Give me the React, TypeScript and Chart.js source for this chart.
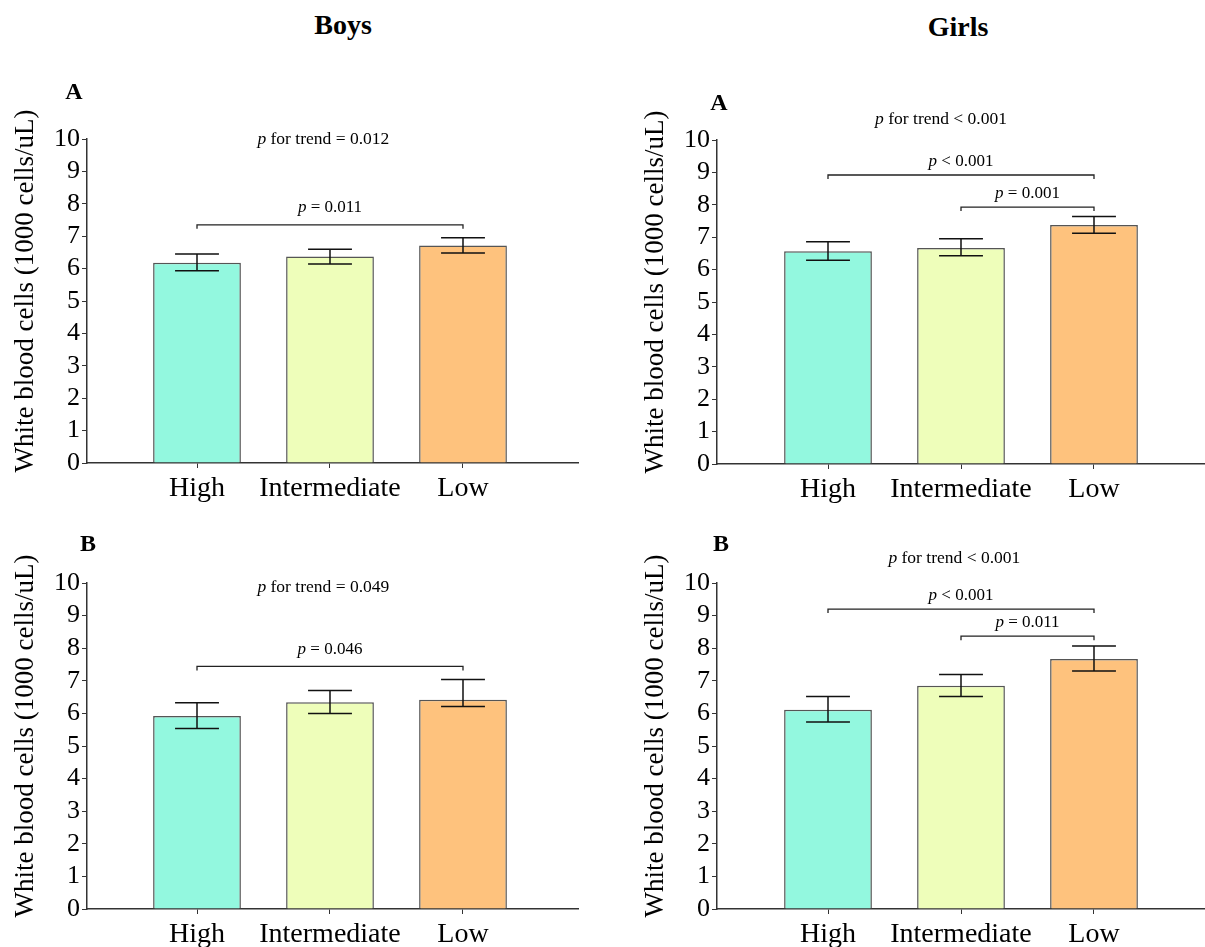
import React, { useEffect, useRef } from 'react';
import { Chart, registerables } from 'chart.js';

Chart.register(...registerables);

const FONT = '"Liberation Serif", "Times New Roman", Times, serif';

// ---------- data ----------
const categories = ['High', 'Intermediate', 'Low'];
const barColors = ['#93F8DF', '#EEFEBA', '#FEC27D'];
const yTickValues = [0, 1, 2, 3, 4, 5, 6, 7, 8, 9, 10];
const yTitle = 'White blood cells (1000 cells/uL)';

// Boys – A
const boysAMeans = [6.18, 6.37, 6.71];
const boysALower = [5.93, 6.14, 6.48];
const boysAUpper = [6.45, 6.6, 6.95];
const boysABrackets = [{ from: 0, to: 2, level: 7.35, label: ' = 0.011' }];
const boysATrend = { level: 9.84, label: ' for trend = 0.012' };

// Girls – A
const girlsAMeans = [6.57, 6.67, 7.38];
const girlsALower = [6.29, 6.43, 7.12];
const girlsAUpper = [6.86, 6.95, 7.64];
const girlsABrackets = [
  { from: 0, to: 2, level: 8.92, label: ' < 0.001' },
  { from: 1, to: 2, level: 7.93, label: ' = 0.001' },
];
const girlsATrend = { level: 10.49, label: ' for trend < 0.001' };

// Boys – B
const boysBMeans = [5.92, 6.34, 6.42];
const boysBLower = [5.54, 6.0, 6.21];
const boysBUpper = [6.33, 6.7, 7.04];
const boysBBrackets = [{ from: 0, to: 2, level: 7.44, label: ' = 0.046' }];
const boysBTrend = { level: 9.73, label: ' for trend = 0.049' };

// Girls – B
const girlsBMeans = [6.11, 6.85, 7.67];
const girlsBLower = [5.74, 6.52, 7.3];
const girlsBUpper = [6.52, 7.19, 8.07];
const girlsBBrackets = [
  { from: 0, to: 2, level: 9.2, label: ' < 0.001' },
  { from: 1, to: 2, level: 8.37, label: ' = 0.011' },
];
const girlsBTrend = { level: 10.62, label: ' for trend < 0.001' };

// ---------- layout ----------
const panels = [
  {
    key: 'boysA', left: 0, top: 60, width: 600, height: 450, padTop: 79, padRight: 22, xHeight: 47,
    xMin: 0.1729, xMax: 3.8647, labelGap: 13, trendX: 1.95,
    means: boysAMeans, lower: boysALower, upper: boysAUpper, brackets: boysABrackets, trend: boysATrend,
  },
  {
    key: 'girlsA', left: 630, top: 60, width: 575, height: 450, padTop: 80, padRight: 0, xHeight: 46,
    xMin: 0.1654, xMax: 3.8346, labelGap: 9, trendX: 1.85,
    means: girlsAMeans, lower: girlsALower, upper: girlsAUpper, brackets: girlsABrackets, trend: girlsATrend,
  },
  {
    key: 'boysB', left: 0, top: 505, width: 600, height: 442, padTop: 78, padRight: 22, xHeight: 38,
    xMin: 0.1729, xMax: 3.8647, labelGap: 12, trendX: 1.95,
    means: boysBMeans, lower: boysBLower, upper: boysBUpper, brackets: boysBBrackets, trend: boysBTrend,
  },
  {
    key: 'girlsB', left: 630, top: 505, width: 575, height: 442, padTop: 78, padRight: 0, xHeight: 38,
    xMin: 0.1654, xMax: 3.8346, labelGap: 9, trendX: 1.95,
    means: girlsBMeans, lower: girlsBLower, upper: girlsBUpper, brackets: girlsBBrackets, trend: girlsBTrend,
  },
];

const AXIS = '#333';

function drawP(ctx: CanvasRenderingContext2D, cx: number, baseY: number, rest: string, size: number) {
  ctx.font = `italic ${size}px ${FONT}`;
  const w1 = ctx.measureText('p').width;
  ctx.font = `${size}px ${FONT}`;
  const w2 = ctx.measureText(rest).width;
  const start = cx - (w1 + w2) / 2;
  ctx.textAlign = 'left';
  ctx.textBaseline = 'alphabetic';
  ctx.fillStyle = '#000';
  ctx.font = `italic ${size}px ${FONT}`;
  ctx.fillText('p', start, baseY);
  ctx.font = `${size}px ${FONT}`;
  ctx.fillText(rest, start + w1, baseY);
}

function Panel({ p }: { p: any }) {
  const ref = useRef<HTMLCanvasElement | null>(null);
  useEffect(() => {
    if (!ref.current) return;
    const annot = {
      id: 'annot',
      afterDatasetsDraw(chart: any) {
        const { ctx, chartArea } = chart;
        const x = chart.scales.x;
        const y = chart.scales.y;
        const meta = chart.getDatasetMeta(0);
        ctx.save();
        // error bars
        ctx.strokeStyle = '#111';
        ctx.lineWidth = 1.5;
        p.means.forEach((_: number, i: number) => {
          const bar = meta.data[i];
          const cx = bar.x;
          const hw = bar.width / 4;
          const yt = y.getPixelForValue(p.upper[i]);
          const yb = y.getPixelForValue(p.lower[i]);
          ctx.beginPath();
          ctx.moveTo(cx, yb);
          ctx.lineTo(cx, yt);
          ctx.moveTo(cx - hw, yt);
          ctx.lineTo(cx + hw, yt);
          ctx.moveTo(cx - hw, yb);
          ctx.lineTo(cx + hw, yb);
          ctx.stroke();
        });
        // brackets
        ctx.strokeStyle = '#222';
        ctx.lineWidth = 1.3;
        p.brackets.forEach((b: any) => {
          const x1 = x.getPixelForValue(b.from + 1);
          const x2 = x.getPixelForValue(b.to + 1);
          const yy = y.getPixelForValue(b.level);
          ctx.beginPath();
          ctx.moveTo(x1, yy + 4);
          ctx.lineTo(x1, yy);
          ctx.lineTo(x2, yy);
          ctx.lineTo(x2, yy + 4);
          ctx.stroke();
          drawP(ctx, (x1 + x2) / 2, yy - p.labelGap, b.label, 17);
        });
        // trend
        drawP(ctx, x.getPixelForValue(p.trendX), y.getPixelForValue(p.trend.level), p.trend.label, 17.5);
        // y-axis title
        ctx.save();
        ctx.translate(26, (chartArea.top + chartArea.bottom) / 2 - 10);
        ctx.rotate(-Math.PI / 2);
        ctx.font = `27px ${FONT}`;
        ctx.fillStyle = '#000';
        ctx.textAlign = 'center';
        ctx.textBaseline = 'middle';
        ctx.fillText(yTitle, 0, 0);
        ctx.restore();
        ctx.restore();
      },
    };
    const chart = new Chart(ref.current, {
      type: 'bar',
      data: {
        datasets: [
          {
            data: p.means.map((v: number, i: number) => ({ x: i + 1, y: v })),
            backgroundColor: barColors,
            borderColor: '#555',
            borderWidth: 1.5,
            barPercentage: 0.66,
            categoryPercentage: 1,
          },
        ],
      },
      options: {
        animation: false,
        responsive: false,
        devicePixelRatio: 1,
        layout: { padding: { top: p.padTop, right: p.padRight, left: 0, bottom: 0 } },
        plugins: { legend: { display: false }, tooltip: { enabled: false } },
        scales: {
          x: {
            type: 'linear',
            min: p.xMin,
            max: p.xMax,
            offset: false,
            grid: { drawOnChartArea: false, drawTicks: true, tickLength: 5, color: AXIS, offset: false },
            border: { display: true, color: AXIS, width: 1.5 },
            ticks: {
              color: '#000',
              font: { family: FONT, size: 28 },
              padding: 4,
              maxRotation: 0,
              autoSkip: false,
              callback: (v: any) => categories[Math.round(v) - 1] ?? '',
            },
            afterBuildTicks: (s: any) => {
              s.ticks = categories.map((_, i) => ({ value: i + 1 }));
            },
            afterFit: (s: any) => {
              s.height = p.xHeight;
            },
          },
          y: {
            min: 0,
            max: 10,
            grid: { drawOnChartArea: false, drawTicks: true, tickLength: 5, color: AXIS },
            border: { display: true, color: AXIS, width: 1.5 },
            ticks: { color: '#000', font: { family: FONT, size: 26 }, padding: 2, autoSkip: false },
            afterBuildTicks: (s: any) => {
              s.ticks = yTickValues.map((v) => ({ value: v }));
            },
            title: { display: false, text: yTitle },
            afterFit: (s: any) => {
              s.width = 87;
            },
          },
        },
      } as any,
      plugins: [annot],
    });
    return () => chart.destroy();
  }, [p]);
  return (
    <canvas
      ref={ref}
      width={p.width}
      height={p.height}
      style={{ position: 'absolute', left: p.left, top: p.top, width: p.width, height: p.height }}
    />
  );
}

const headings = [
  { text: 'Boys', x: 343, y: 25, size: 28 },
  { text: 'Girls', x: 958, y: 27, size: 28 },
  { text: 'A', x: 74, y: 91, size: 24 },
  { text: 'A', x: 719, y: 102, size: 24 },
  { text: 'B', x: 88, y: 543, size: 24 },
  { text: 'B', x: 721, y: 543, size: 24 },
];

export default function App() {
  return (
    <div style={{ position: 'absolute', left: 0, top: 0, width: 1205, height: 947, background: '#fff', overflow: 'hidden' }}>
      {panels.map((p) => (
        <Panel key={p.key} p={p} />
      ))}
      {headings.map((h, i) => (
        <div
          key={i}
          style={{
            position: 'absolute',
            left: h.x,
            top: h.y,
            transform: 'translate(-50%, -50%)',
            font: `bold ${h.size}px ${FONT}`,
            lineHeight: 1,
            color: '#000',
            whiteSpace: 'nowrap',
          }}
        >
          {h.text}
        </div>
      ))}
    </div>
  );
}
